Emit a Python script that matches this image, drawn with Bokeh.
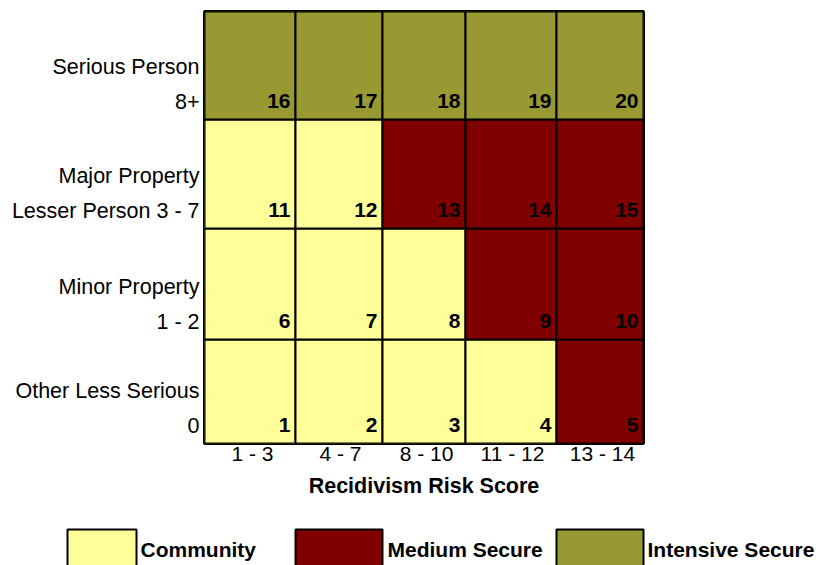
from bokeh.plotting import figure
from bokeh.models import Range1d, FixedTicker, ColumnDataSource
from bokeh.layouts import column
from bokeh.core.properties import value
from bokeh.embed import file_html
from bokeh.resources import INLINE
import numpy as np

# ---- data ----
y_title = "Offense Severity Score"
x_title = "Recidivism Risk Score"
risk_cols = ["1 - 3", "4 - 7", "8 - 10", "11 - 12", "13 - 14"]
# rows from bottom to top
severity_line1 = ["Other Less Serious", "Minor Property", "Major Property", "Serious Person"]
severity_line2 = ["0", "1 - 2", "Lesser Person 3 - 7", "8+"]
cell_levels = [
    ["Community", "Community", "Community", "Community", "Medium Secure"],
    ["Community", "Community", "Community", "Medium Secure", "Medium Secure"],
    ["Community", "Community", "Medium Secure", "Medium Secure", "Medium Secure"],
    ["Intensive Secure", "Intensive Secure", "Intensive Secure", "Intensive Secure", "Intensive Secure"],
]
cell_numbers = [
    [1, 2, 3, 4, 5],
    [6, 7, 8, 9, 10],
    [11, 12, 13, 14, 15],
    [16, 17, 18, 19, 20],
]
legend_labels = ["Community", "Medium Secure", "Intensive Secure"]
level_colors = {"Community": "#FFFF99", "Medium Secure": "#800000", "Intensive Secure": "#999933"}

# ---- layout constants (pixels) ----
col_widths = [91, 87, 83, 91, 87]
row_heights = [104, 111, 109, 108]
FONT = "Liberation Sans"
W = 821
STRIP_H, MAIN_H, LEG_H = 4, 516, 45
FRAME_L, FRAME_T = 204, 11          # page coordinates of the grid's top-left
BASE_FIX = -9                       # text glyph baseline correction (px)

col_edges = np.concatenate([[0], np.cumsum(col_widths)])
row_edges = np.concatenate([[0], np.cumsum(row_heights)])
FRAME_R = FRAME_L + int(col_edges[-1])
FRAME_B = FRAME_T + int(row_edges[-1])


def bare(h, x0, x1, y0, y1):
    f = figure(width=W, height=h, x_range=Range1d(x0, x1), y_range=Range1d(y0, y1),
               output_backend="svg", toolbar_location=None, x_axis_type=None, y_axis_type=None,
               min_border=0, title=None)
    f.outline_line_color = None
    f.background_fill_color = "white"
    f.border_fill_color = "white"
    f.frame_align = False
    return f


# ---- top strip: clipped y-axis title (only its lowest pixels show, as in the reference) ----
strip = bare(STRIP_H, 0, W, STRIP_H, 0)
strip.text(x=[196], y=[-1], text=[y_title], y_offset=BASE_FIX,
           text_align="right", text_baseline="alphabetic",
           text_font=value(FONT), text_font_size="21px", text_font_style="bold", text_color="black")

# ---- main grid ----
left, right, bottom, top, colors, nums = [], [], [], [], [], []
for r in range(len(severity_line1)):
    for c in range(len(risk_cols)):
        left.append(float(col_edges[c]))
        right.append(float(col_edges[c + 1]))
        bottom.append(float(row_edges[r]))
        top.append(float(row_edges[r + 1]))
        colors.append(level_colors[cell_levels[r][c]])
        nums.append(str(cell_numbers[r][c]))
src = ColumnDataSource(dict(left=left, right=right, bottom=bottom, top=top, color=colors, num=nums))

p = figure(width=W, height=MAIN_H, title=None,
           x_range=Range1d(0, float(col_edges[-1])), y_range=Range1d(0, float(row_edges[-1])),
           output_backend="svg", toolbar_location=None,
           min_border_left=FRAME_L, min_border_right=W - FRAME_R,
           min_border_top=FRAME_T - STRIP_H, min_border_bottom=STRIP_H + MAIN_H - FRAME_B)
p.frame_align = False
p.grid.visible = False
p.outline_line_color = "black"
p.outline_line_width = 3
p.background_fill_color = "white"
p.border_fill_color = "white"

p.quad(left="left", right="right", bottom="bottom", top="top", source=src,
       fill_color="color", line_color="black", line_width=2)
p.text(x="right", y="bottom", text="num", source=src, x_offset=-5, y_offset=-10 + BASE_FIX,
       text_align="right", text_baseline="alphabetic",
       text_font=value(FONT), text_font_size="21px", text_font_style="bold", text_color="black")

# x axis
xt = [int(round((col_edges[i] + col_edges[i + 1]) / 2)) + 2 for i in range(len(risk_cols))]
xa = p.xaxis[0]
xa.ticker = FixedTicker(ticks=xt)
xa.major_label_overrides = {t: lab for t, lab in zip(xt, risk_cols)}
xa.axis_line_color = None
xa.major_tick_line_color = None
xa.minor_tick_line_color = None
xa.major_tick_out = 0
xa.major_tick_in = 0
xa.major_label_standoff = -2
xa.major_label_text_font = FONT
xa.major_label_text_font_size = "21px"
xa.major_label_text_color = "black"
xa.axis_label = x_title
xa.axis_label_text_font = FONT
xa.axis_label_text_font_size = "21.5px"
xa.axis_label_text_font_style = "bold"
xa.axis_label_text_color = "black"
xa.axis_label_standoff = 6

# y axis (two text lines per row)
yt, yover = [], {}
for r in range(len(severity_line1)):
    t1 = int(row_edges[r]) + 53
    t2 = int(row_edges[r]) + 18
    yt += [t1, t2]
    yover[t1] = severity_line1[r]
    yover[t2] = severity_line2[r]
ya = p.yaxis[0]
ya.ticker = FixedTicker(ticks=yt)
ya.major_label_overrides = yover
ya.axis_line_color = None
ya.major_tick_line_color = None
ya.minor_tick_line_color = None
ya.major_tick_out = 0
ya.major_tick_in = 0
ya.major_label_standoff = 5
ya.major_label_orientation = "horizontal"
ya.major_label_text_font = FONT
ya.major_label_text_font_size = "21.5px"
ya.major_label_text_color = "black"

# ---- legend strip (page pixel positions; y measured from the strip's top) ----
LEG_TOP = STRIP_H + MAIN_H
sw_left = [67, 295, 556]
sw_right = [136, 382, 643]
sw_top, sw_bottom = 529, 600
txt_x = [140, 387, 647]
txt_base = 558
lg = bare(LEG_H, 0, W, LEG_H, 0)
lsrc = ColumnDataSource(dict(left=sw_left, right=sw_right,
                             top=[sw_top - LEG_TOP] * 3, bottom=[sw_bottom - LEG_TOP] * 3,
                             color=[level_colors[k] for k in legend_labels],
                             tx=txt_x, ty=[txt_base - LEG_TOP] * 3, label=legend_labels))
lg.quad(left="left", right="right", top="top", bottom="bottom", source=lsrc,
        fill_color="color", line_color="black", line_width=2)
lg.text(x="tx", y="ty", text="label", source=lsrc, y_offset=BASE_FIX,
        text_align="left", text_baseline="alphabetic",
        text_font=value(FONT), text_font_size="21px", text_font_style="bold", text_color="black")

layout = column(strip, p, lg, spacing=0)
open("out.html", "w").write(file_html(layout, INLINE))
